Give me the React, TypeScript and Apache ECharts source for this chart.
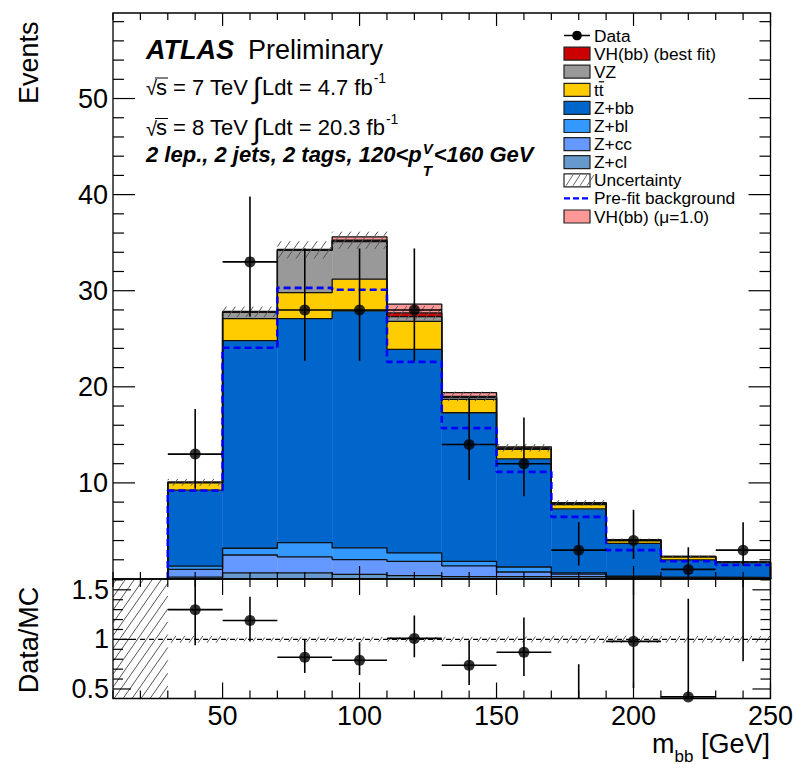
import React, { useEffect, useRef } from 'react';
import * as echarts from 'echarts';

const FONT = "'Liberation Sans', Arial, Helvetica, sans-serif";

// ---------- data ----------
const binEdges = [30, 50, 70, 90, 110, 130, 150, 170, 190, 210, 230, 250];
const binCenters = [40, 60, 80, 100, 120, 140, 160, 180, 200, 220, 240];

const zcl = [0.2, 0.63, 0.63, 0.49, 0.35, 0.25, 0.25, 0.25, 0.15, 0.08, 0.05];
const zcc = [0.8, 1.87, 1.67, 1.53, 1.49, 1.11, 0.48, 0.25, 0.1, 0.07, 0.05];
const zbl = [0.35, 0.7, 1.49, 1.21, 0.87, 0.48, 0.52, 0.13, 0.05, 0.05, 0.05];
const zbb = [7.89, 21.6, 23.31, 24.67, 21.19, 15.46, 11.25, 6.67, 3.4, 1.8, 1.55];
const ttbar = [0.76, 2.3, 2.7, 3.3, 2.9, 1.4, 1.0, 0.45, 0.3, 0.3, 0.02];
const vz = [0.05, 0.65, 4.4, 3.9, 0.5, 0.2, 0.1, 0.1, 0.05, 0.03, 0.03];
const vhFit = [0.01, 0.05, 0.05, 0.15, 0.4, 0.1, 0.05, 0.05, 0.02, 0.01, 0.01];
const vhMu1 = [0.02, 0.05, 0.05, 0.35, 0.9, 0.4, 0.1, 0.05, 0.03, 0.02, 0.01];

const uncert = [0.35, 0.55, 0.9, 0.9, 0.7, 0.5, 0.4, 0.3, 0.15, 0.08, 0.06];
const prefit = [9.2, 24.06, 30.3, 30.1, 22.6, 15.7, 11.15, 6.46, 3.0, 1.84, 1.45];

const dataVal = [13, 33, 28, 28, 28, 14, 12, 3, 4, 1, 3];
const dataLo = [9.4, 27.3, 22.7, 22.7, 22.7, 10.3, 8.6, 1.4, 2.1, 0.2, 1.4];
const dataHi = [17.7, 39.8, 34.4, 34.4, 34.4, 18.8, 16.8, 5.9, 7.2, 3.3, 5.9];

const ratioVal = [1.3, 1.19, 0.82, 0.79, 1.01, 0.74, 0.87, 0.38, 0.98, 0.42, 1.71];
const ratioLo = [0.94, 0.98, 0.66, 0.64, 0.82, 0.54, 0.63, 0.17, 0.51, 0.07, 0.78];
const ratioHi = [1.77, 1.43, 1.0, 0.97, 1.24, 0.99, 1.22, 0.75, 1.76, 1.41, 3.4];

// ---------- axes ----------
const xRange = [10, 250];
const yMainRange = [0, 58.9];
const yRatioRange = [0.404, 1.609];
const xLabels = [50, 100, 150, 200, 250];
const xMajorTicks = [50, 100, 150, 200, 250];
const xMinorTicks = [10, 20, 30, 40, 60, 70, 80, 90, 110, 120, 130, 140, 160, 170, 180, 190, 210, 220, 230, 240];
const yMainLabels = [10, 20, 30, 40, 50];
const yMainMajorTicks = [10, 20, 30, 40, 50];
const yMainMinorTicks = [2, 4, 6, 8, 12, 14, 16, 18, 22, 24, 26, 28, 32, 34, 36, 38, 42, 44, 46, 48, 52, 54, 56, 58];
const yRatioLabels = [0.5, 1, 1.5];
const yRatioMajorTicks = [0.5, 1, 1.5];
const yRatioMinorTicks = [0.6, 0.7, 0.8, 0.9, 1.1, 1.2, 1.3, 1.4, 1.6];

const legendNames = ['Data', 'VH(bb) (best fit)', 'VZ', 'tt', 'Z+bb', 'Z+bl', 'Z+cc', 'Z+cl', 'Uncertainty', 'Pre-fit background', 'VH(bb) (\u03bc=1.0)'];
const legendKinds = ['data', 'box', 'box', 'box', 'box', 'box', 'box', 'box', 'hatch', 'dash', 'box'];
const legendColors = ['#000', '#cc0000', '#999999', '#ffcc00', '#0066cc', '#3399ff', '#6699ff', '#6699cc', '#fff', '#0000ff', '#ff9999'];

export default function App() {
  const ref = useRef<HTMLDivElement>(null);
  useEffect(() => {
    const el = ref.current!;
    const chart = echarts.init(el, null, { renderer: 'svg' });
    const cv = document.createElement('canvas').getContext('2d')!;
    const tw = (t: string, size: number, weight = 'normal', style = 'normal') => {
      cv.font = `${style} ${weight} ${size}px ${FONT}`;
      return cv.measureText(t).width;
    };

    const layers = [
      { values: zcl, color: '#6699cc' },
      { values: zcc, color: '#6699ff' },
      { values: zbl, color: '#3399ff' },
      { values: zbb, color: '#0066cc' },
      { values: ttbar, color: '#ffcc00' },
      { values: vz, color: '#999999' },
      { values: vhFit, color: '#cc0000' },
      { values: vhMu1, color: '#ff9999' },
    ];
    let base = binCenters.map(() => 0);
    const layerItems: any[] = [];
    const layerTops: number[][] = [];
    let totalFit: number[] = [];
    layers.forEach((L, li) => {
      const items = L.values.map((v, i) => [binEdges[i], binEdges[i + 1], base[i], base[i] + v]);
      base = base.map((b, i) => b + L.values[i]);
      layerItems.push(items);
      layerTops.push(base.slice());
      if (li === 6) totalFit = base.slice();
    });

    const stepPts = (tops: number[], closeEnd = true) => {
      const pts: number[][] = [[binEdges[0], 0]];
      tops.forEach((t, i) => {
        pts.push([binEdges[i], t]);
        pts.push([binEdges[i + 1], t]);
      });
      if (closeEnd) pts.push([binEdges[binEdges.length - 1], 0]);
      return pts;
    };

    const rectRender = (color: string) => (params: any, api: any) => {
      const a = api.coord([api.value(0), api.value(3)]);
      const b = api.coord([api.value(1), api.value(2)]);
      return {
        type: 'rect',
        shape: { x: a[0], y: a[1], width: b[0] - a[0], height: b[1] - a[1] },
        style: { fill: color, stroke: color, lineWidth: 0.4 },
      };
    };

    const hatchRender = (params: any, api: any) => {
      const a = api.coord([api.value(0), api.value(3)]);
      const b = api.coord([api.value(1), api.value(2)]);
      const x0 = a[0], y0 = a[1], x1 = b[0], y1 = b[1];
      const s = 0.7, d = 9;
      const children: any[] = [];
      const cmin = x0 + s * y0, cmax = x1 + s * y1;
      for (let c = Math.ceil(cmin / d) * d; c <= cmax; c += d) {
        const ya = Math.max(y0, (c - x1) / s);
        const yb = Math.min(y1, (c - x0) / s);
        if (yb - ya > 0.3) {
          children.push({ type: 'line', shape: { x1: c - s * ya, y1: ya, x2: c - s * yb, y2: yb }, style: { stroke: '#555', lineWidth: 1 } });
        }
      }
      return { type: 'group', children };
    };

    const errRender = (params: any, api: any) => {
      const lo = api.value(0), hi = api.value(1), xc = api.value(2), y = api.value(3), el2 = api.value(4), eh = api.value(5);
      const pl = api.coord([lo, y]), pr = api.coord([hi, y]);
      const pb = api.coord([xc, el2]), pt = api.coord([xc, eh]);
      const st = { stroke: '#000', lineWidth: 1.6 };
      return {
        type: 'group',
        children: [
          { type: 'line', shape: { x1: pl[0], y1: pl[1], x2: pr[0], y2: pr[1] }, style: st },
          { type: 'line', shape: { x1: pb[0], y1: pb[1], x2: pt[0], y2: pt[1] }, style: st },
        ],
      };
    };

    const tickRender = (xRef: number, yRef: number) => (params: any, api: any) => {
      const cs = params.coordSys;
      const v = api.value(0), side = api.value(1), len = api.value(2);
      const st = { stroke: '#000', lineWidth: 1.2 };
      if (side === 4) {
        return { type: 'rect', shape: { x: cs.x, y: cs.y, width: cs.width, height: cs.height }, style: { fill: 'none', stroke: '#000', lineWidth: 1.3 } };
      }
      if (side <= 1) {
        const px = api.coord([v, yRef])[0];
        const yy = side === 0 ? cs.y + cs.height : cs.y;
        const dir = side === 0 ? -1 : 1;
        return { type: 'line', shape: { x1: px, y1: yy, x2: px, y2: yy + dir * len }, style: st };
      }
      const py = api.coord([xRef, v])[1];
      const xx = side === 2 ? cs.x : cs.x + cs.width;
      const dir = side === 2 ? 1 : -1;
      return { type: 'line', shape: { x1: xx, y1: py, x2: xx + dir * len, y2: py }, style: st };
    };

    const tickItems = (xMaj: number, xMin: number, yMajT: number[], yMinT: number[], yMaj: number, yMin: number) => {
      const out: number[][] = [];
      xMajorTicks.forEach((v) => { out.push([v, 0, xMaj]); out.push([v, 1, xMaj]); });
      xMinorTicks.forEach((v) => { out.push([v, 0, xMin]); out.push([v, 1, xMin]); });
      yMajT.forEach((v) => { out.push([v, 2, yMaj]); out.push([v, 3, yMaj]); });
      yMinT.forEach((v) => { out.push([v, 2, yMin]); out.push([v, 3, yMin]); });
      out.push([0, 4, 0]);
      return out;
    };

    const series: any[] = [];
    // stacked fills
    layers.forEach((L, li) => {
      series.push({
        type: 'custom', xAxisIndex: 0, yAxisIndex: 0, clip: true, silent: true, z: 1,
        encode: { x: [0, 1], y: [2, 3] },
        renderItem: rectRender(L.color), data: layerItems[li],
      });
    });
    // outlines
    layerTops.forEach((tops) => {
      series.push({
        type: 'line', xAxisIndex: 0, yAxisIndex: 0, data: stepPts(tops), symbol: 'none', showSymbol: false,
        clip: true, silent: true, z: 2, lineStyle: { color: '#111', width: 1.3 },
      });
    });
    // uncertainty hatch main
    series.push({
      type: 'custom', xAxisIndex: 0, yAxisIndex: 0, clip: true, silent: true, z: 3,
      encode: { x: [0, 1], y: [2, 3] }, renderItem: hatchRender,
      data: totalFit.map((t, i) => [binEdges[i], binEdges[i + 1], t - uncert[i], t + uncert[i]]),
    });
    // prefit
    series.push({
      type: 'line', xAxisIndex: 0, yAxisIndex: 0, data: stepPts(prefit, false), symbol: 'none', showSymbol: false,
      clip: true, silent: true, z: 4, lineStyle: { color: '#0000ff', width: 2.6, type: [7, 4] },
    });
    // data
    series.push({
      type: 'custom', xAxisIndex: 0, yAxisIndex: 0, clip: true, silent: true, z: 5,
      encode: { x: [0, 1], y: [3, 4, 5] }, renderItem: errRender,
      data: binCenters.map((c, i) => [binEdges[i], binEdges[i + 1], c, dataVal[i], dataLo[i], dataHi[i]]),
    });
    series.push({
      type: 'scatter', xAxisIndex: 0, yAxisIndex: 0, clip: true, silent: true, z: 6, symbolSize: 11,
      itemStyle: { color: '#000' }, data: binCenters.map((c, i) => [c, dataVal[i]]),
    });
    // ratio panel
    series.push({
      type: 'custom', xAxisIndex: 1, yAxisIndex: 1, clip: true, silent: true, z: 3,
      encode: { x: [0, 1], y: [2, 3] }, renderItem: hatchRender,
      data: [[xRange[0], binEdges[0], yRatioRange[0], yRatioRange[1]]].concat(
        totalFit.map((t, i) => [binEdges[i], binEdges[i + 1], 1 - uncert[i] / t, 1 + uncert[i] / t])
      ),
    });
    series.push({
      type: 'line', xAxisIndex: 1, yAxisIndex: 1, data: [[xRange[0], 1], [xRange[1], 1]], symbol: 'none', showSymbol: false,
      silent: true, z: 4, lineStyle: { color: '#000', width: 1.3, type: [5, 4] },
    });
    series.push({
      type: 'custom', xAxisIndex: 1, yAxisIndex: 1, clip: true, silent: true, z: 5,
      encode: { x: [0, 1], y: [3, 4, 5] }, renderItem: errRender,
      data: binCenters.map((c, i) => [binEdges[i], binEdges[i + 1], c, ratioVal[i], ratioLo[i], ratioHi[i]]),
    });
    series.push({
      type: 'scatter', xAxisIndex: 1, yAxisIndex: 1, clip: true, silent: true, z: 6, symbolSize: 11,
      itemStyle: { color: '#000' }, data: binCenters.map((c, i) => [c, ratioVal[i]]),
    });
    // ticks + frames
    series.push({
      type: 'custom', xAxisIndex: 0, yAxisIndex: 0, clip: false, silent: true, z: 10,
      encode: { x: 0 }, renderItem: tickRender(100, 10),
      data: tickItems(13, 7, yMainMajorTicks, yMainMinorTicks, 22, 11),
    });
    series.push({
      type: 'custom', xAxisIndex: 1, yAxisIndex: 1, clip: false, silent: true, z: 10,
      encode: { x: 0 }, renderItem: tickRender(100, 1),
      data: tickItems(16, 8, yRatioMajorTicks, yRatioMinorTicks, 18, 10),
    });

    // ---------- texts ----------
    const T = (x: number, y: number, text: string, size: number, extra: any = {}) => ({
      type: 'text', x, y, z: 20, silent: true,
      style: Object.assign({ text, fontSize: size, fontFamily: FONT, fill: '#000', verticalAlign: 'middle', align: 'left' }, extra.style || {}),
      ...(extra.rotation ? { rotation: extra.rotation } : {}),
    });
    const L = (x1: number, y1: number, x2: number, y2: number, stroke = '#000', lineWidth = 1.3, lineDash: any = null) => ({
      type: 'line', z: 20, silent: true, shape: { x1, y1, x2, y2 }, style: { stroke, lineWidth, lineDash },
    });

    const g: any[] = [];
    g.push(T(146, 50, 'ATLAS', 27, { style: { fontWeight: 'bold', fontStyle: 'italic' } }));
    g.push(T(146 + tw('ATLAS', 27, 'bold', 'italic') + 14, 50, 'Preliminary', 27));

    const lumiLine = (yc: number, energy: string, lumi: string) => {
      const wr = tw('\u221a', 20);
      const sx = 146 + wr - 1;
      const ws = tw('s', 22);
      g.push(T(146, yc + 1, '\u221a', 20));
      g.push(T(sx, yc, 's', 22));
      g.push(L(sx - 1, yc - 9, sx + ws + 1, yc - 9, '#000', 1));
      g.push(T(sx + ws, yc, ` = ${energy} TeV`, 22));
      g.push(T(253, yc + 1, '\u222b', 29));
      const t2 = `Ldt = ${lumi} fb`;
      g.push(T(262, yc, t2, 22));
      g.push(T(262 + tw(t2, 22) + 1, yc - 9, '-1', 14));
    };
    lumiLine(87, '7', '4.7');
    lumiLine(127.5, '8', '20.3');

    const bi = { fontWeight: 'bold', fontStyle: 'italic' };
    const p1 = '2 lep., 2 jets, 2 tags, 120<p';
    g.push(T(146, 154, p1, 22, { style: bi }));
    const xp = 146 + tw(p1, 22, 'bold', 'italic') + 1;
    g.push(T(xp, 148, 'V', 15, { style: bi }));
    g.push(T(xp, 170, 'T', 15, { style: bi }));
    g.push(T(xp + Math.max(tw('V', 15, 'bold', 'italic'), tw('T', 15, 'bold', 'italic')) + 1, 154, '<160 GeV', 22, { style: bi }));

    // legend
    legendNames.forEach((name, i) => {
      const yc = 35.5 + i * 18.1;
      const kind = legendKinds[i];
      if (kind === 'data') {
        g.push(L(564, yc, 590, yc, '#000', 1.5));
        g.push({ type: 'circle', z: 20, silent: true, shape: { cx: 577, cy: yc, r: 4.8 }, style: { fill: '#000' } });
      } else if (kind === 'dash') {
        g.push(L(564, yc, 590, yc, legendColors[i], 2.4, [6, 3]));
      } else {
        g.push({ type: 'rect', z: 20, silent: true, shape: { x: 564, y: yc - 6.5, width: 26, height: 13 }, style: { fill: legendColors[i], stroke: '#222', lineWidth: 1.2 } });
        if (kind === 'hatch') {
          for (let k = 0; k < 4; k++) {
            const x0 = 566 + k * 7;
            g.push(L(x0, yc + 5.5, x0 + 7, yc - 5.5, '#666', 1));
          }
        }
      }
      g.push(T(594, yc, name, 17.3));
      if (name === 'tt') {
        const a = 594 + tw('t', 17.3);
        g.push(L(a, yc - 8, a + tw('t', 17.3) + 0.5, yc - 8, '#000', 1.2));
      }
    });

    // axis titles
    g.push(T(29, 104, 'Events', 27, { rotation: Math.PI / 2 }));
    g.push(T(29, 640, 'Data/MC', 27, { rotation: Math.PI / 2, style: { align: 'center' } }));
    const wG = tw('[GeV]', 27);
    const xG = 770 - wG;
    const xbb = xG - tw(' ', 27) - tw('bb', 17);
    const xm = xbb - tw('m', 27);
    g.push(T(xm, 744, 'm', 27));
    g.push(T(xbb, 756, 'bb', 17));
    g.push(T(xG, 744, '[GeV]', 27));

    const labelStyle = { fontSize: 27, color: '#000', fontFamily: FONT };
    const option: any = {
      animation: false,
      grid: [
        { left: 113, top: 13, width: 657.5, height: 566, containLabel: false },
        { left: 113, top: 579, width: 657.5, height: 119.5, containLabel: false },
      ],
      xAxis: [
        { gridIndex: 0, type: 'value', min: xRange[0], max: xRange[1], axisLine: { show: false }, axisTick: { show: false }, axisLabel: { show: false }, splitLine: { show: false } },
        { gridIndex: 1, type: 'value', min: xRange[0], max: xRange[1], axisLine: { show: false }, axisTick: { show: false },
          axisLabel: Object.assign({ show: true, customValues: xLabels, margin: 4 }, labelStyle), splitLine: { show: false } },
      ],
      yAxis: [
        { gridIndex: 0, type: 'value', min: yMainRange[0], max: yMainRange[1], axisLine: { show: false }, axisTick: { show: false },
          axisLabel: Object.assign({ show: true, customValues: yMainLabels, margin: 5 }, labelStyle), splitLine: { show: false } },
        { gridIndex: 1, type: 'value', min: yRatioRange[0], max: yRatioRange[1], axisLine: { show: false }, axisTick: { show: false },
          axisLabel: Object.assign({ show: true, customValues: yRatioLabels, margin: 4 }, labelStyle), splitLine: { show: false } },
      ],
      series,
      graphic: { elements: g },
    };
    chart.setOption(option);
    return () => chart.dispose();
  }, []);
  return <div ref={ref} style={{ position: 'fixed', left: 0, top: 0, width: 796, height: 764, background: '#fff' }} />;
}
